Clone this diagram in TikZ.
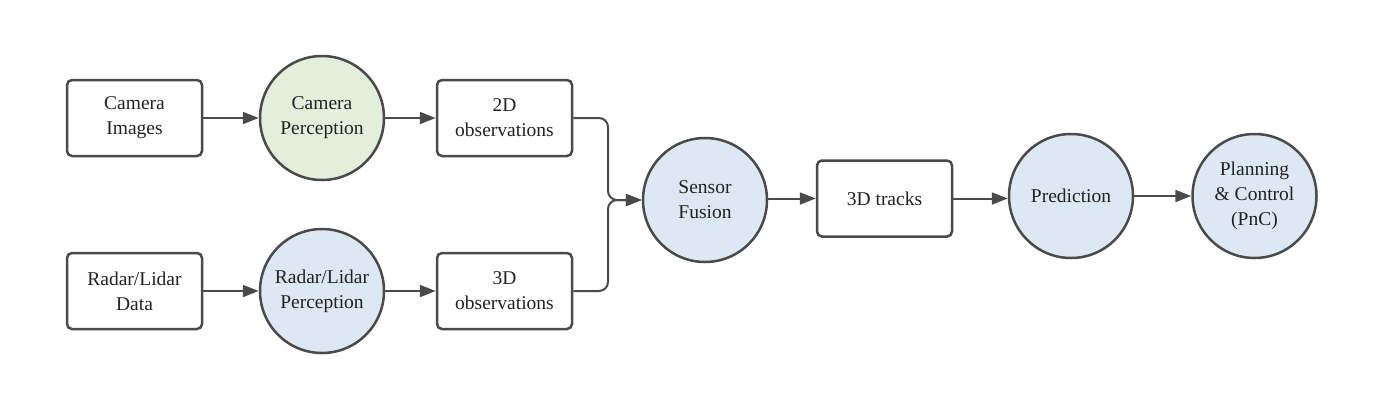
\documentclass[tikz,border=0pt]{standalone}
\usepackage{fontspec}
\setmainfont{Liberation Serif}
\usetikzlibrary{arrows.meta}
\definecolor{edge}{HTML}{4A4A4A}
\definecolor{greenfill}{HTML}{E3EFDA}
\definecolor{bluefill}{HTML}{DCE9F4}
\definecolor{txt}{HTML}{222222}
\tikzset{
  box/.style={draw=edge, line width=2.5pt, rounded corners=5pt, fill=white,
    minimum width=135pt, minimum height=76pt, inner sep=0pt, align=center,
    text=txt, font=\fontsize{19.5}{25}\selectfont},
  proc/.style={draw=edge, line width=2.5pt, circle, minimum size=124pt,
    inner sep=0pt, align=center, text=txt, font=\fontsize{19.5}{25}\selectfont},
  conn/.style={draw=edge, line width=2pt,
    -{Triangle[length=16pt,width=12pt]}}
}
\begin{document}
\begin{tikzpicture}[x=1pt,y=-1pt]
\useasboundingbox (0,0) rectangle (1400,416);
\fill[white] (0,0) rectangle (1400,416);

\node[box] (cam) at (134.5,118) {Camera\\Images};
\node[proc, fill=greenfill] (camp) at (322,118) {Camera\\Perception};
\node[box] (o2) at (504.5,118) {2D\\observations};

\node[box] (rad) at (134.5,291) {Radar/Lidar\\Data};
\node[proc, fill=bluefill] (radp) at (322,291) {Radar/Lidar\\Perception};
\node[box] (o3) at (504.5,291) {3D\\observations};

\node[proc, fill=bluefill] (fus) at (705,200) {Sensor\\Fusion};
\node[box] (trk) at (884.5,198.5) {3D tracks};
\node[proc, fill=bluefill] (pred) at (1071,196) {Prediction};
\node[proc, fill=bluefill] (pnc) at (1254.5,196) {Planning\\\& Control\\(PnC)};

\coordinate (m) at (608,200);

\draw[conn] (cam) -- (camp);
\draw[conn] (camp) -- (o2);
\draw[conn] (rad) -- (radp);
\draw[conn] (radp) -- (o3);
\draw[conn, rounded corners=9pt] (o2.east) -| (m) -- (fus.west);
\draw[conn, rounded corners=9pt] (o3.east) -| (m) -- (fus.west);
\draw[conn] (fus.east |- trk.west) -- (trk.west);
\draw[conn] (trk.east) -- (pred.west |- trk.east);
\draw[conn] (pred) -- (pnc);
\end{tikzpicture}
\end{document}
